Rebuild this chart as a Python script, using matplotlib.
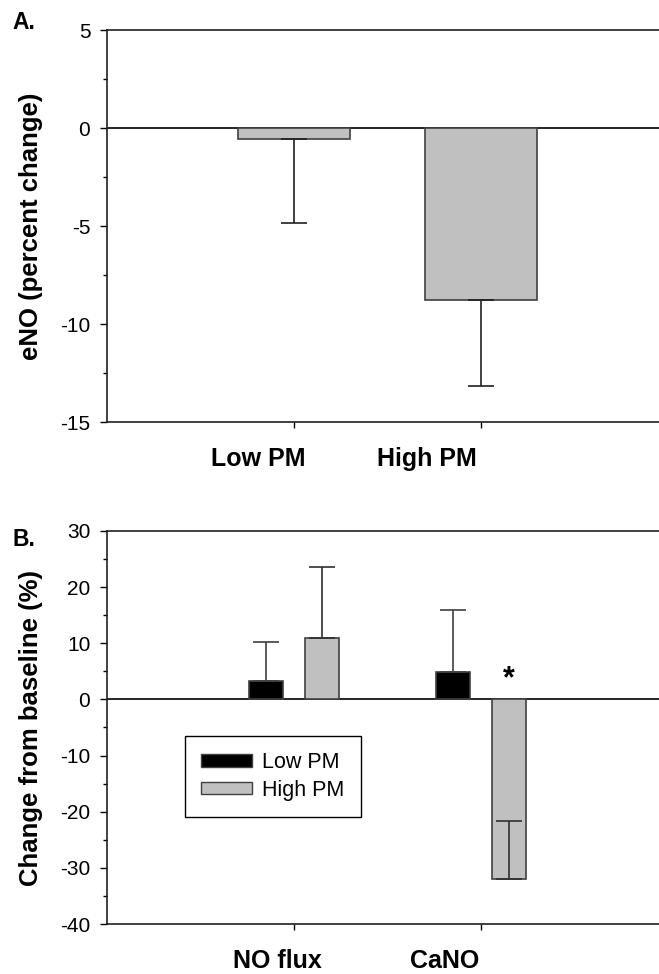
import matplotlib
matplotlib.use("Agg")
import matplotlib.pyplot as plt
from matplotlib.patches import Patch
from matplotlib.ticker import MultipleLocator
from matplotlib.transforms import blended_transform_factory, ScaledTranslation
import numpy as np

plt.rcParams['font.family'] = ['Liberation Sans', 'DejaVu Sans']
plt.rcParams['axes.unicode_minus'] = False

# ---- data ----
groups_a = ['Low PM', 'High PM']
eno_mean = [-0.55, -8.8]
eno_err = [4.3, 4.35]          # drawn downward from bar end

groups_b = ['NO flux', 'CaNO']
low_pm = [3.3, 4.9]
low_pm_err = [6.9, 11.0]
high_pm = [10.9, -32.0]
high_pm_err = [12.7, 10.4]     # drawn upward from bar end
series_names = ['Low PM', 'High PM']

# horizontal shift (pixels) of each category label relative to its tick
label_shift_a = [-36, -54]
label_shift_b = [-17, -36]

GRAY = '#c0c0c0'
EDGE = '#404040'

W, H = 659, 974
DPI = 100
fig = plt.figure(figsize=(W / DPI, H / DPI), dpi=DPI)

def style_axes(ax, ymin, ymax, major, minor):
    ax.set_ylim(ymin, ymax)
    ax.set_xlim(-1.0, 1.952)
    ax.spines['right'].set_visible(False)
    for s in ['left', 'bottom', 'top']:
        ax.spines[s].set_linewidth(1.2)
        ax.spines[s].set_color('#202020')
    ax.yaxis.set_major_locator(MultipleLocator(major))
    ax.yaxis.set_minor_locator(MultipleLocator(minor))
    ax.tick_params(axis='y', which='major', length=5, width=1.0, pad=7,
                   labelsize=15, direction='out')
    ax.tick_params(axis='y', which='minor', length=3, width=1.0, direction='out')
    ax.tick_params(axis='x', which='major', length=4.5, width=1.0,
                   labelbottom=False, direction='out')
    ax.tick_params(axis='x', which='minor', length=0)
    ax.axhline(0, color='black', lw=1.2, zorder=1)

def cat_labels(ax, xs, labels, shifts):
    tr = blended_transform_factory(ax.transData, ax.transAxes)
    for x, lab, s in zip(xs, labels, shifts):
        t = tr + ScaledTranslation(s / DPI, -25 / DPI, fig.dpi_scale_trans)
        ax.text(x, 0, lab, transform=t, ha='center', va='top',
                fontsize=18, fontweight='bold')

# ---- Panel A ----
axA = fig.add_axes([107 / W, 1 - 422 / H, 1 - 107 / W, (422 - 30) / H])
xa = np.arange(len(groups_a))
axA.bar(xa, eno_mean, width=0.6, color=GRAY, edgecolor=EDGE, linewidth=1.2, zorder=2)
axA.errorbar(xa, eno_mean, yerr=[eno_err, [0] * len(eno_err)], fmt='none',
             ecolor='#202020', elinewidth=1.2, capsize=9.4, capthick=1.2, zorder=3)
axA.set_xticks(xa)
style_axes(axA, -15, 5, 5, 2.5)
cat_labels(axA, xa, groups_a, label_shift_a)
axA.set_ylabel('eNO (percent change)', fontsize=18.5, fontweight='bold', labelpad=12)
fig.text(12 / W, 1 - 29 / H, 'A.', fontsize=16.5, fontweight='bold', ha='left', va='baseline')

# ---- Panel B ----
axB = fig.add_axes([107 / W, 1 - 924 / H, 1 - 107 / W, (924 - 531) / H])
xb = np.arange(len(groups_b))
off, bw = 0.15, 0.182
axB.bar(xb - off, low_pm, width=bw, color='black', edgecolor=EDGE, linewidth=1.2, zorder=2)
axB.bar(xb + off, high_pm, width=bw, color=GRAY, edgecolor=EDGE, linewidth=1.2, zorder=2)
axB.errorbar(xb - off, low_pm, yerr=[[0] * 2, low_pm_err], fmt='none',
             ecolor='#404040', elinewidth=1.2, capsize=9.4, capthick=1.2, zorder=3)
axB.errorbar(xb + off, high_pm, yerr=[[0] * 2, high_pm_err], fmt='none',
             ecolor='#303030', elinewidth=1.2, capsize=9.4, capthick=1.2, zorder=3)
axB.set_xticks(xb)
style_axes(axB, -40, 30, 10, 5)
cat_labels(axB, xb, groups_b, label_shift_b)
axB.set_ylabel('Change from baseline (%)', fontsize=18.5, fontweight='bold', labelpad=12)
axB.text(xb[1] + off, 1.0, '*', fontsize=22, fontweight='bold', ha='center', va='bottom')
fig.text(12 / W, 1 - 546 / H, 'B.', fontsize=16.5, fontweight='bold', ha='left', va='baseline')

handles = [Patch(facecolor='black', edgecolor=EDGE, linewidth=1.0),
           Patch(facecolor=GRAY, edgecolor=EDGE, linewidth=1.0)]
leg = fig.legend(handles, series_names, loc='upper left',
                 bbox_to_anchor=(185 / W, 1 - 736 / H), bbox_transform=fig.transFigure,
                 borderaxespad=0, fontsize=15.5, frameon=True, fancybox=False,
                 edgecolor='black', framealpha=1, handlelength=2.35, handleheight=0.55,
                 handletextpad=0.5, borderpad=0.75, labelspacing=0.3)
leg.get_frame().set_linewidth(1.0)

fig.savefig('out.png', dpi=DPI)
